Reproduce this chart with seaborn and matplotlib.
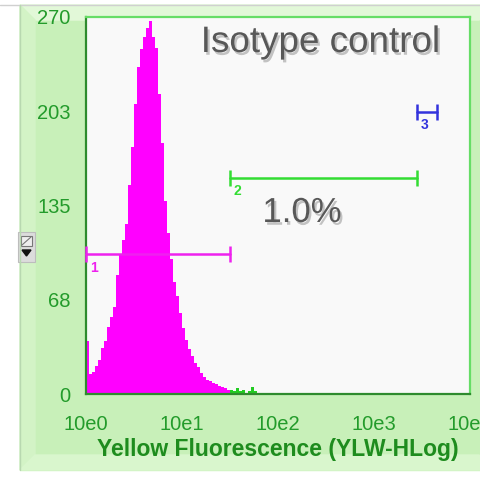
import numpy as np
import pandas as pd
import matplotlib
matplotlib.use("Agg")
import matplotlib.pyplot as plt
import matplotlib.patheffects as pe
from matplotlib.patches import Polygon, Rectangle
import seaborn as sns

# ---- data -------------------------------------------------------------
# event counts per channel, 32 channels per decade, starting at 10e0
channel_counts = [38, 14, 16, 20, 24, 33, 38, 48, 55, 62,
                  85, 100, 110, 122, 150, 177, 208, 234, 247, 256,
                  262, 267, 256, 248, 215, 180, 138, 115, 97, 80,
                  70, 58, 47, 39, 32, 27, 22, 19, 15, 12,
                  10, 9, 8, 7, 6, 5, 4, 3, 3, 2,
                  4, 2, 3, 1, 2, 5, 2, 1]
channels_per_decade = 32
n_decades = 4
decade_labels = ["10e0", "10e1", "10e2", "10e3", "10e4"]
y_max = 270

# marker gates (in decades) and their heights
gate_names = ["1", "2", "3"]
gate_lo = [0.0, 1.5, 3.45]
gate_hi = [1.5, 3.45, 3.66]
gate_y = [100, 155, 202]
gate_colors = ["#ee22ee", "#33dd33", "#3333dd"]

title_text = "Isotype control"
gate2_percent = "1.0%"

# ---- figure -----------------------------------------------------------
sns.set_theme(style="white")
plt.rcParams["font.family"] = ["Liberation Sans", "DejaVu Sans"]

W, H = 480, 479
fig = plt.figure(figsize=(W / 100, H / 100), dpi=100)
fig.patch.set_facecolor("white")

# bevelled green panel behind the plot
bg = fig.add_axes([0, 0, 1, 1], zorder=0)
bg.set_xlim(0, W)
bg.set_ylim(H, 0)
bg.axis("off")
ox0, oy0, ox1, oy1 = 20, 5, 494, 470
b = 15
bg.add_patch(Rectangle((ox0, oy0), ox1 - ox0, oy1 - oy0, color="#c8f0b9"))
bg.add_patch(Polygon([(ox0, oy0), (ox1, oy0), (ox1 - b, oy0 + b), (ox0 + b, oy0 + b)],
                     color="#e2f8d8"))
bg.add_patch(Polygon([(ox0, oy0), (ox0 + b, oy0 + b), (ox0 + b, oy1 - b), (ox0, oy1)],
                     color="#d3f3c6"))
bg.add_patch(Polygon([(ox0, oy1), (ox0 + b, oy1 - b), (ox1 - b, oy1 - b), (ox1, oy1)],
                     color="#d9f6cd"))
bg.plot([0, W], [oy0, oy0], color="#d0d0d0", lw=1)
bg.plot([ox0, ox0], [oy0, oy1], color="#b8d8b0", lw=1)

# small drop-down control on the left edge
bg.add_patch(Rectangle((18, 232), 17, 30, facecolor="#dcdcdc", edgecolor="#bdbdbd", lw=0.8))
bg.add_patch(Rectangle((21, 236), 11, 10, facecolor="#eeeeee", edgecolor="#777777", lw=0.8))
bg.plot([22, 31], [245, 237], color="#777777", lw=0.8)
bg.add_patch(Polygon([(22, 250), (31, 250), (26.5, 256)], color="#111111"))

# histogram axes
ax = fig.add_axes([86 / W, 85 / H, 384 / W, 377 / H], zorder=1)
ax.set_facecolor("#f9f9f9")

counts = np.array(channel_counts, dtype=float)
edges = np.arange(len(counts) + 1) / channels_per_decade
centers = (edges[:-1] + edges[1:]) / 2
df = pd.DataFrame({"decade": centers, "events": counts})
split = int(round(gate_lo[1] * channels_per_decade))
n_all = len(counts)

sns.histplot(data=df.iloc[:split], x="decade", weights="events",
             bins=split, binrange=(edges[0], edges[split]),
             element="step", fill=True, color="#ff00ff", alpha=1, linewidth=0, ax=ax)
sns.histplot(data=df.iloc[split:], x="decade", weights="events",
             bins=n_all - split, binrange=(edges[split], edges[n_all]),
             element="step", fill=True, color="#22cc22", alpha=1, linewidth=0, ax=ax)

# gates
for name, lo, hi, gy, c in zip(gate_names, gate_lo, gate_hi, gate_y, gate_colors):
    ax.plot([lo, hi], [gy, gy], color=c, lw=1.8, marker="|", markersize=12,
            markeredgewidth=1.8, clip_on=False, zorder=3)
    ax.text(lo + 0.04, gy - 4.5, name, color=c, fontsize=10, fontweight="bold",
            ha="left", va="top", zorder=3)

ax.set_xlim(0, n_decades)
ax.set_ylim(0, y_max)

tick_green = "#239b2b"
ax.set_xticks(range(n_decades + 1))
ax.set_xticklabels(decade_labels)
minor_x = [k + np.log10(m) for k in range(n_decades) for m in range(2, 10)]
ax.set_xticks(minor_x, minor=True)
y_major = np.linspace(0, y_max, 5)
ax.set_yticks(y_major)
ax.set_yticklabels([f"{v:.0f}" for v in np.round(y_major + 1e-9)])
ax.set_yticks(np.arange(0, y_max + 0.1, y_max / 20), minor=True)

ax.tick_params(axis="both", which="major", direction="out", length=8, width=1.3,
               colors=tick_green, labelsize=14.5)
ax.tick_params(axis="both", which="minor", direction="out", length=3.5, width=1.0,
               colors=tick_green)
ax.tick_params(axis="x", which="major", pad=7)
ax.tick_params(axis="y", which="major", pad=3)

ax.set_ylabel("")
ax.set_xlabel("Yellow Fluorescence (YLW-HLog)", fontsize=16.5, fontweight="bold",
              color="#1e8c1e", labelpad=3)

for side, col in [("left", "#2e8b2e"), ("bottom", "#2e8b2e"),
                  ("top", "#66dd66"), ("right", "#66dd66")]:
    ax.spines[side].set_visible(True)
    ax.spines[side].set_color(col)
    ax.spines[side].set_linewidth(1.6)

shadow = [pe.withSimplePatchShadow(offset=(1.5, -2), shadow_rgbFace="black", alpha=0.22)]
fig.text(320 / W, (H - 52) / H, title_text, ha="center", va="baseline",
         fontsize=26.5, color="#585858", path_effects=shadow, zorder=5)
fig.text(302 / W, (H - 222) / H, gate2_percent, ha="center", va="baseline",
         fontsize=25, color="#585858", path_effects=shadow, zorder=5)

fig.savefig("out.png", dpi=100)
